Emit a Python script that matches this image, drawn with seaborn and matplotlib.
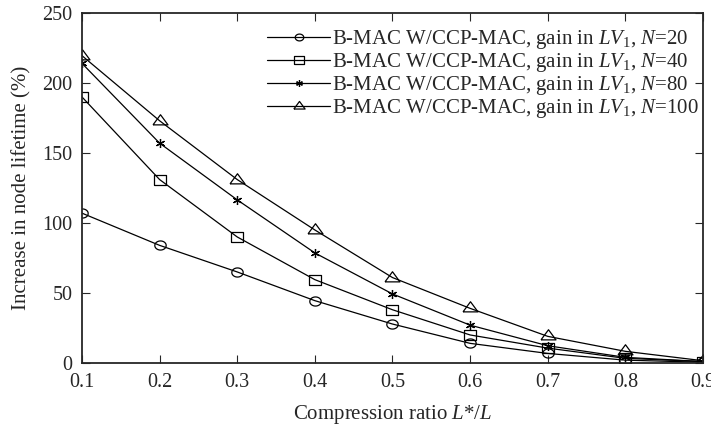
import numpy as np
import pandas as pd
import matplotlib.pyplot as plt
import seaborn as sns

ratio = [0.1, 0.2, 0.3, 0.4, 0.5, 0.6, 0.7, 0.8, 0.9]
gain_n20 = [107, 84, 65, 44.5, 27.8, 14, 6.8, 2, 0.5]
gain_n40 = [190, 131, 90, 59.5, 38, 20, 10.6, 3.3, 1]
gain_n80 = [214, 157, 116.5, 78.6, 49.3, 27, 12.3, 4, 1]
gain_n100 = [219.5, 173, 131, 95, 61, 39, 19, 8.3, 1.6]
labels = [r"B-MAC W/CCP-MAC, gain in $LV_1$, $N$=20",
          r"B-MAC W/CCP-MAC, gain in $LV_1$, $N$=40",
          r"B-MAC W/CCP-MAC, gain in $LV_1$, $N$=80",
          r"B-MAC W/CCP-MAC, gain in $LV_1$, $N$=100"]

sns.set_style("ticks")
plt.rcParams['font.family'] = ['Liberation Serif', 'DejaVu Serif']
plt.rcParams['mathtext.fontset'] = 'custom'
plt.rcParams['mathtext.rm'] = 'Liberation Serif'
plt.rcParams['mathtext.it'] = 'Liberation Serif:italic'
plt.rcParams['xtick.direction'] = 'in'
plt.rcParams['ytick.direction'] = 'in'

df = pd.concat([
    pd.DataFrame({'ratio': ratio, 'gain': vals, 'series': lab})
    for vals, lab in zip([gain_n20, gain_n40, gain_n80, gain_n100], labels)
])

# the original markers are slightly squashed (wider than tall)
t = np.linspace(0, 2 * np.pi, 41)
ellipse = list(zip(np.cos(t), 0.8 * np.sin(t)))
square = [(-1, -0.85), (1, -0.85), (1, 0.85), (-1, 0.85), (-1, -0.85)]
triangle = [(-1, -0.45), (1, -0.45), (0, 0.9), (-1, -0.45)]

fig = plt.figure(figsize=(7.11, 4.25), dpi=100)
ax = fig.add_axes([0.1153, 0.146, 0.8734, 0.8235])

markers = [ellipse, square, (6, 2, 0), triangle]
sizes = [8.2, 8.8, 6.5, 10.8]
for lab, m, ms in zip(labels, markers, sizes):
    sub = df[df['series'] == lab]
    sns.lineplot(data=sub, x='ratio', y='gain', ax=ax, color='black',
                 marker=m, markersize=ms, markerfacecolor='none',
                 markeredgecolor='black', markeredgewidth=0.9,
                 linewidth=0.9, label=lab)

ax.set_xlim(0.1, 0.9)
ax.set_ylim(0, 250)
ax.set_xticks(ratio)
ax.set_yticks([0, 50, 100, 150, 200, 250])
ax.tick_params(labelsize=14.5, top=True, right=True, length=6, width=0.8,
               pad=7)
for s in ax.spines.values():
    s.set_linewidth(1.3)
    s.set_visible(True)
ax.set_xlabel(r"Compression ratio $L$*/$L$", fontsize=15, labelpad=8)
ax.set_ylabel("Increase in node lifetime (%)", fontsize=15, labelpad=8)

ax.legend(loc='upper right', bbox_to_anchor=(1.0, 0.968), frameon=False,
          fontsize=15, handlelength=3.0, handletextpad=0.1, labelspacing=0.0,
          borderaxespad=0.0, borderpad=0.2, markerscale=0.75)

fig.savefig("out.png", dpi=100)
